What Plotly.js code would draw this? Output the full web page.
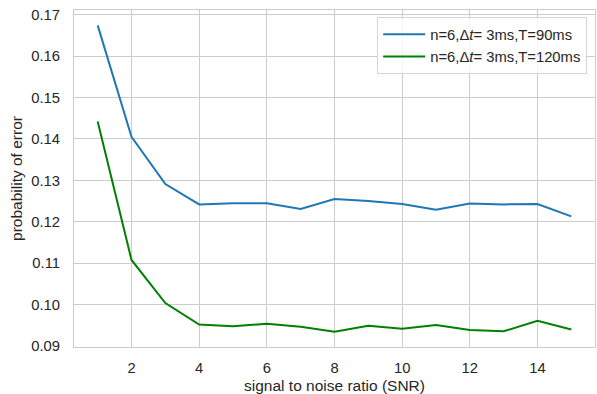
<!DOCTYPE html>
<html>
<head>
<meta charset="utf-8">
<script src="https://cdn.plot.ly/plotly-3.0.1.min.js"></script>
<style>html,body{margin:0;padding:0;background:#fff;}#chart{width:597px;height:394px;}</style>
</head>
<body>
<div id="chart"></div>
<script>
const snr = [1,2,3,4,5,6,7,8,9,10,11,12,13,14,15];
const errT90 = [0.1674,0.1405,0.1291,0.1242,0.1245,0.1245,0.1231,0.1255,0.1250,0.1243,0.1229,0.1244,0.1242,0.1243,0.1213];
const errT120 = [0.1442,0.1108,0.1004,0.0952,0.0948,0.0954,0.0947,0.0935,0.0949,0.0942,0.0951,0.0939,0.0936,0.0961,0.0940];
const seriesNames = ["n=6,Δ<i>t</i>= 3ms,T=90ms", "n=6,Δ<i>t</i>= 3ms,T=120ms"];
const xTicks = [2,4,6,8,10,12,14];
const yTicks = [0.09,0.10,0.11,0.12,0.13,0.14,0.15,0.16,0.17];

const font = "Liberation Sans, Arial, sans-serif";
const traces = [
  {x: snr, y: errT90, name: seriesNames[0], mode: "lines", line: {color: "#1f77b4", width: 2}},
  {x: snr, y: errT120, name: seriesNames[1], mode: "lines", line: {color: "#008000", width: 2}}
];
const layout = {
  width: 597, height: 394,
  margin: {l: 74, r: 2, t: 10, b: 47, pad: 0},
  paper_bgcolor: "#ffffff", plot_bgcolor: "#ffffff",
  font: {family: font, color: "#262626", size: 14.8},
  showlegend: true,
  legend: {
    x: 0.985, y: 0.979, xanchor: "right", yanchor: "top",
    bgcolor: "rgba(255,255,255,0.8)", bordercolor: "#d5d5d5", borderwidth: 1,
    font: {family: font, size: 14.8, color: "#262626"},
    itemwidth: 42,
    tracegroupgap: 0
  },
  xaxis: {
    range: [0.3, 15.7], tickvals: xTicks, ticktext: xTicks.map(String),
    showgrid: true, gridcolor: "#cccccc", gridwidth: 1, zeroline: false,
    showline: true, linecolor: "#cccccc", linewidth: 1, mirror: true,
    ticks: "", ticklabelstandoff: 7,
    tickfont: {family: font, size: 14.8, color: "#262626"},
    title: {text: "signal to noise ratio (SNR)", font: {family: font, size: 15.5, color: "#262626"}, standoff: 6}
  },
  yaxis: {
    range: [0.0898, 0.1711], tickvals: yTicks, ticktext: yTicks.map(v => v.toFixed(2)),
    showgrid: true, gridcolor: "#cccccc", gridwidth: 1, zeroline: false,
    showline: true, linecolor: "#cccccc", linewidth: 1, mirror: true,
    ticks: "", ticklabelstandoff: 10,
    tickfont: {family: font, size: 14.8, color: "#262626"},
    title: {text: "probability of error", font: {family: font, size: 15.5, color: "#262626"}, standoff: 4}
  }
};
Plotly.newPlot("chart", traces, layout, {displayModeBar: false, staticPlot: true});
</script>
</body>
</html>
